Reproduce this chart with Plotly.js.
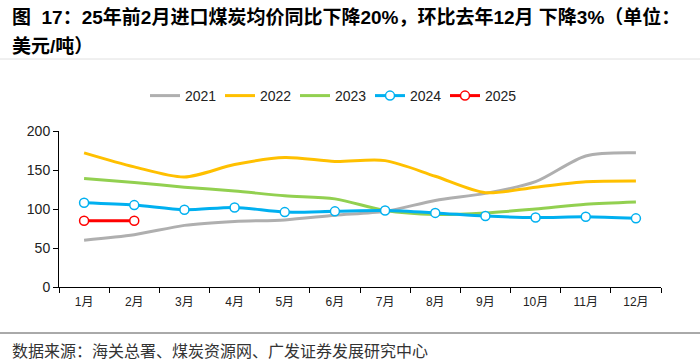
<!DOCTYPE html>
<html><head><meta charset="utf-8">
<script src="https://cdn.plot.ly/plotly-3.0.1.min.js"></script>
<style>html,body{margin:0;padding:0;background:#fff;}#chart{width:700px;height:363px;}</style>
</head><body><div id="chart"></div>
<script>
const months = ["1月","2月","3月","4月","5月","6月","7月","8月","9月","10月","11月","12月"];
const v2021 = [60, 67, 79, 84, 86, 92, 97, 111, 120, 135, 168, 172];
const v2022 = [172, 154, 141, 157, 166, 161, 162, 142, 121, 128, 135, 136];
const v2023 = [139, 134, 128, 123, 117, 113, 98, 93, 95, 100, 106, 109];
const v2024 = [108, 105, 99, 102, 96, 97, 98, 95, 91, 89, 90, 88];
const v2025 = [85, 85];
const yTicks = [0, 50, 100, 150, 200];
const titleLine1 = "图  17：25年前2月进口煤炭均价同比下降20%，环比去年12月 下降3%（单位：";
const titleLine2 = "美元/吨）";
const sourceText = "数据来源：海关总署、煤炭资源网、广发证券发展研究中心";

const fontFam = "'Liberation Sans', Arial, 'Noto Sans CJK SC', sans-serif";
function lineTrace(name, y, color, markers){
  const t = {x: months.slice(0, y.length), y: y, name: name, type: 'scatter',
    mode: markers ? 'lines+markers' : 'lines',
    line: {color: color, width: 3, shape: 'spline', smoothing: 0.8}};
  if (markers) t.marker = {symbol: 'circle', size: 9, color: '#ffffff', line: {color: color, width: 1.5}};
  return t;
}
const data = [
  lineTrace('2021', v2021, '#AFAFAF', false),
  lineTrace('2022', v2022, '#FFC000', false),
  lineTrace('2023', v2023, '#92D050', false),
  lineTrace('2024', v2024, '#00B0F0', true),
  lineTrace('2025', v2025, '#FF0000', true)
];
const py = v => (287 - v) / 156;
const px = v => (v - 59) / 602;
const layout = {
  width: 700, height: 363,
  margin: {l: 59, r: 39, t: 131, b: 76},
  paper_bgcolor: '#fff', plot_bgcolor: '#fff',
  font: {family: fontFam, size: 12, color: '#222'},
  showlegend: true,
  legend: {orientation: 'h', x: px(145), xanchor: 'left', y: py(96), yanchor: 'middle',
    font: {size: 14, color: '#222'}, entrywidth: 30, entrywidthmode: 'pixels', tracegroupgap: 0},
  xaxis: {type: 'category', categoryorder: 'array', categoryarray: months,
    showline: true, linecolor: '#000', linewidth: 1, showgrid: false, zeroline: false,
    ticks: 'outside', tickson: 'boundaries', ticklen: 5, tickcolor: '#000', ticklabelstandoff: 4,
    tickfont: {size: 12, color: '#222'}, range: [-0.5, 11.5]},
  yaxis: {range: [0, 200], tickvals: yTicks, ticktext: yTicks.map(String),
    showline: true, linecolor: '#000', linewidth: 1, showgrid: false, zeroline: false,
    ticks: 'outside', ticklen: 5, tickcolor: '#000', tickfont: {size: 14, color: '#222'}},
  annotations: [
    {text: '<b>' + titleLine1 + '</b>', xref: 'paper', yref: 'paper', x: px(10), y: py(17),
      xanchor: 'left', yanchor: 'middle', align: 'left', showarrow: false,
      font: {family: fontFam, size: 19, color: '#000'}},
    {text: '<b>' + titleLine2 + '</b>', xref: 'paper', yref: 'paper', x: px(10), y: py(47),
      xanchor: 'left', yanchor: 'middle', align: 'left', showarrow: false,
      font: {family: fontFam, size: 19, color: '#000'}},
    {text: sourceText, xref: 'paper', yref: 'paper', x: px(10), y: py(350), xanchor: 'left', yanchor: 'middle',
      align: 'left', showarrow: false, font: {family: "'Noto Sans CJK SC', sans-serif", size: 16, color: '#333'}}
  ],
  shapes: [
    {type: 'line', xref: 'paper', yref: 'paper', x0: px(0), x1: px(700), y0: py(59), y1: py(59), line: {color: '#e0e0e0', width: 1}},
    {type: 'line', xref: 'paper', yref: 'paper', x0: px(0), x1: px(700), y0: py(333), y1: py(333), line: {color: '#555', width: 1}}
  ]
};
Plotly.newPlot('chart', data, layout, {displayModeBar: false, staticPlot: true});
</script></body></html>
